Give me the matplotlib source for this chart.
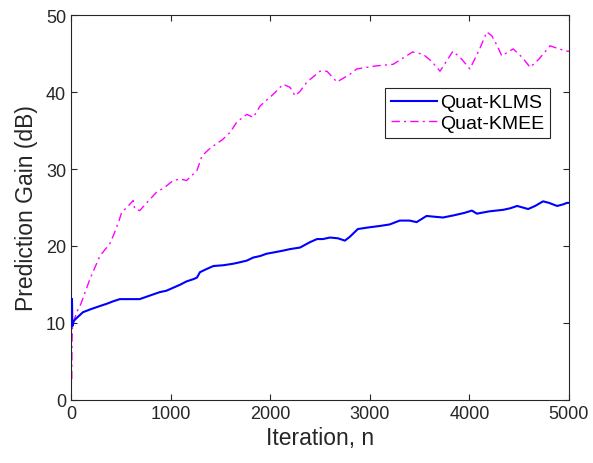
import matplotlib
matplotlib.use("Agg")
import matplotlib.pyplot as plt

plt.rcParams['font.family'] = ['Liberation Sans', 'DejaVu Sans']

klms_n = [10, 14, 25, 45, 120, 200, 290, 360, 420, 490, 600, 690, 800, 890, 960, 1030, 1100,
          1160, 1230, 1265, 1295, 1360, 1430, 1530, 1630, 1700, 1765, 1830, 1900, 1965, 2050,
          2130, 2200, 2300, 2400, 2470, 2530, 2600, 2680, 2750, 2800, 2880, 2980, 3100, 3200,
          3300, 3400, 3470, 3570, 3650, 3735, 3850, 3950, 4025, 4075, 4200, 4340, 4410, 4480,
          4590, 4660, 4740, 4800, 4880, 4940, 4980, 5000]
klms_db = [13.1, 9.6, 10.2, 10.5, 11.4, 11.8, 12.2, 12.5, 12.8, 13.1, 13.1, 13.1, 13.6, 14.0,
           14.2, 14.6, 15.0, 15.4, 15.7, 15.9, 16.6, 17.0, 17.4, 17.5, 17.7, 17.9, 18.1, 18.5,
           18.7, 19.0, 19.2, 19.4, 19.6, 19.8, 20.5, 20.9, 20.9, 21.1, 21.0, 20.7, 21.2, 22.2,
           22.4, 22.6, 22.8, 23.3, 23.3, 23.1, 23.9, 23.8, 23.7, 24.0, 24.3, 24.6, 24.2, 24.5,
           24.7, 24.9, 25.2, 24.8, 25.2, 25.8, 25.6, 25.2, 25.4, 25.6, 25.6]

kmee_n = [8, 10, 15, 28, 57, 100, 190, 290, 390, 430, 475, 510, 560, 625, 640, 690, 760, 860,
          940, 1025, 1100, 1160, 1265, 1315, 1380, 1430, 1520, 1600, 1665, 1765, 1830, 1900,
          2030, 2130, 2200, 2250, 2300, 2370, 2500, 2570, 2670, 2800, 2870, 3070, 3235, 3430,
          3535, 3620, 3705, 3835, 3920, 4005, 4100, 4175, 4225, 4280, 4325, 4440, 4530, 4610,
          4700, 4810, 4900, 4980, 5000]
kmee_db = [2.7, 7.5, 9.5, 10.2, 11.4, 12.5, 15.7, 18.7, 20.3, 21.5, 23.0, 24.4, 25.0, 25.9,
           24.8, 24.6, 25.6, 27.0, 27.6, 28.5, 28.7, 28.5, 29.8, 31.7, 32.5, 33.0, 33.8, 34.8,
           36.1, 37.1, 36.7, 38.2, 39.7, 41.0, 40.6, 39.5, 40.1, 41.3, 42.7, 42.7, 41.3, 42.3,
           43.0, 43.4, 43.6, 45.2, 44.9, 44.0, 42.7, 45.3, 44.3, 43.0, 45.5, 47.8, 47.3, 46.0,
           44.7, 45.6, 44.5, 43.2, 44.3, 46.0, 45.6, 45.3, 45.3]

x_ticks = [0, 1000, 2000, 3000, 4000, 5000]
y_ticks = [0, 10, 20, 30, 40, 50]

fig = plt.figure(figsize=(5.93, 4.64), dpi=100)
ax = fig.add_axes([0.1197, 0.1358, 0.8398, 0.8297])

ax.plot(kmee_n, kmee_db, color='#ff00ff', lw=1.0, linestyle=(0, (6, 3, 1.5, 3)), label='Quat-KMEE', zorder=2)
ax.plot(klms_n, klms_db, color='#0000ff', lw=1.5, linestyle='-', label='Quat-KLMS', zorder=3)

ax.set_xlim(0, 5000)
ax.set_ylim(0, 50)
ax.set_xticks(x_ticks)
ax.set_yticks(y_ticks)
ax.tick_params(direction='in', top=True, right=True, labelsize=13, colors='#262626', length=4)
for s in ax.spines.values():
    s.set_color('#262626')
    s.set_linewidth(0.8)

ax.set_xlabel('Iteration, n', fontsize=16.5, color='#262626', labelpad=3)
ax.set_ylabel('Prediction Gain (dB)', fontsize=16.5, color='#262626', labelpad=6)

handles, labels = ax.get_legend_handles_labels()
leg = ax.legend([handles[1], handles[0]], [labels[1], labels[0]], loc='upper right',
                bbox_to_anchor=(0.962, 0.81), borderaxespad=0, fancybox=False,
                fontsize=14, handlelength=2.4, handletextpad=0.15, borderpad=0.3,
                labelspacing=0.2, framealpha=1, handleheight=0.6)
leg.get_frame().set_edgecolor('#262626')
leg.get_frame().set_linewidth(0.8)

fig.savefig('out.png', dpi=100)
